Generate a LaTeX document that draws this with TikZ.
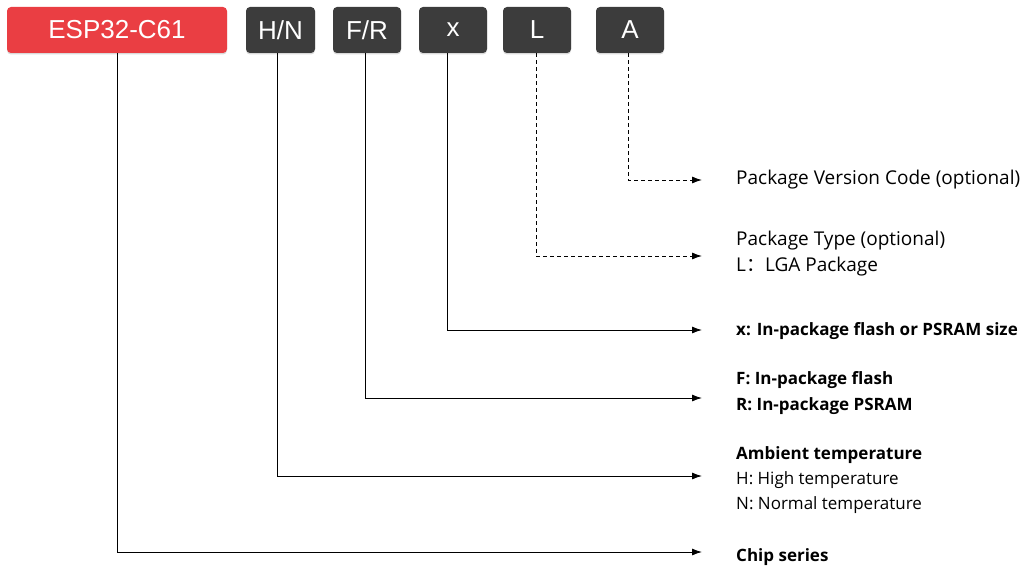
\documentclass[tikz,border=0pt]{standalone}
\usepackage{fontspec}
\setmainfont{Open Sans}
\newfontfamily\codefont{Liberation Sans}
\newfontfamily\cjk{Noto Sans CJK SC}
\usetikzlibrary{arrows.meta,shadows}
\definecolor{espred}{RGB}{234,62,67}
\definecolor{codegray}{RGB}{60,60,60}

\begin{document}
\begin{tikzpicture}[x=1pt, y=-1pt, >={Latex[length=10pt,width=7pt]}]
    \tikzset{%
      code/.style={fill=codegray, rounded corners=4pt, text=white, inner sep=0pt,
        minimum width=68pt, minimum height=46pt,
        font=\codefont\fontsize{26}{26}\selectfont,
        drop shadow={opacity=0.3, shadow xshift=0pt, shadow yshift=-1.5pt}},
      meaning/.style={anchor=west, align=left, inner sep=0pt,
        font=\fontsize{17}{25}\selectfont},
      pkgmeaning/.style={meaning, font=\fontsize{19}{26}\selectfont},
      keymeaning/.style={meaning, font=\bfseries\fontsize{17}{26}\selectfont},
      link/.style={->, line width=0.9pt},
      optlink/.style={link, dash pattern=on 4pt off 3pt}
      }
    \useasboundingbox (0,0) rectangle (1033,572);

    % code fields
    \node [code, fill=espred, minimum width=220pt] (Yesp) at (117,30) {ESP32-C61};
    \node [code, minimum width=69pt] (Yhn) at (280.5,30) {H/N};
    \node [code] (Yfr) at (367,30) {F/R};
    \node [code] (Yx) at (453,30) {x};
    \node [code] (Yl) at (537,30) {L};
    \node [code] (Ya) at (630,30) {A};

    % explanations
    \node [pkgmeaning] (Tver) at (736,180) {Package Version Code (optional)};
    \node [pkgmeaning] (Ttype) at (736,254) {Package Type (optional)\\L{\cjk ：}LGA Package};
    \node [keymeaning] (Tsize) at (736,331) {x: In-package flash or PSRAM size};
    \node [keymeaning] (Tfr) at (736,393) {F: In-package flash\\R: In-package PSRAM};
    \node [meaning] (Tamb) at (736,480) {\textbf{Ambient temperature}\\H: High temperature\\N: Normal temperature};
    \node [keymeaning] (Tchip) at (736,557) {Chip series};

    \coordinate (Aver) at (702,180);
    \coordinate (Atype) at (702,256);
    \coordinate (Asize) at (702,330);
    \coordinate (Afr) at (702,398);
    \coordinate (Ahn) at (702,476);
    \coordinate (Achip) at (702,552);

    \draw [optlink] ([xshift=-2pt]Ya.south) |- (Aver);
    \draw [optlink] ([xshift=-1pt]Yl.south) |- (Atype);
    \draw [link] ([xshift=-6pt]Yx.south) |- (Asize);
    \draw [link] ([xshift=-2pt]Yfr.south) |- (Afr);
    \draw [link] ([xshift=-3.5pt]Yhn.south) |- (Ahn);
    \draw [link] (Yesp.south) |- (Achip);

\end{tikzpicture}
\end{document}
